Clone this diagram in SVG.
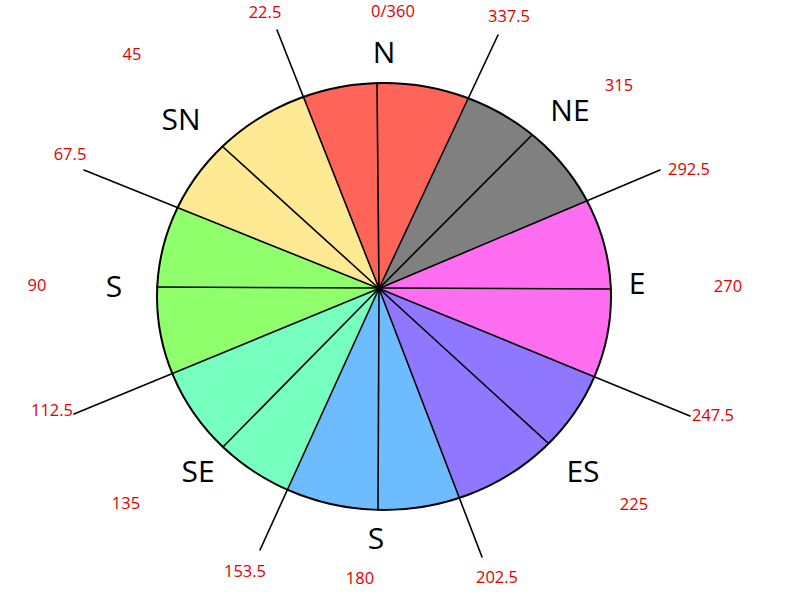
<svg xmlns="http://www.w3.org/2000/svg" width="800" height="600" viewBox="0 0 800 600">
<style>
.sec{stroke:none}
.sp{stroke:#000;stroke-width:1.6;fill:none;stroke-linecap:round}
.rim{fill:none;stroke:#000;stroke-width:2}
.dir{font-family:"Open Sans","Liberation Sans",sans-serif;font-size:30px;fill:#000;text-anchor:middle}
.deg{font-family:"Open Sans","Liberation Sans",sans-serif;font-size:16.5px;fill:#e00000;text-anchor:middle}
</style>
<rect width="800" height="600" fill="#fff"/>
<g id="sectors">
<path id="sec-N" class="sec" fill="#ff6459" d="M379 288.5 L303 97 A227 213.5 0 0 1 469 98.5 Z"/>
<path id="sec-NE" class="sec" fill="#808080" d="M379 288.5 L469 98.5 A227 213.5 0 0 1 587.3 201 Z"/>
<path id="sec-E" class="sec" fill="#ff6ef0" d="M379 288.5 L587.3 201 A227 213.5 0 0 1 594.4 376.7 Z"/>
<path id="sec-ES" class="sec" fill="#8f78ff" d="M379 288.5 L594.4 376.7 A227 213.5 0 0 1 459 498 Z"/>
<path id="sec-S" class="sec" fill="#6cbcff" d="M379 288.5 L459 498 A227 213.5 0 0 1 288 490 Z"/>
<path id="sec-SE" class="sec" fill="#77ffbf" d="M379 288.5 L288 490 A227 213.5 0 0 1 172.4 373.6 Z"/>
<path id="sec-W" class="sec" fill="#8fff6b" d="M379 288.5 L172.4 373.6 A227 213.5 0 0 1 177.6 207.8 Z"/>
<path id="sec-SN" class="sec" fill="#ffe993" d="M379 288.5 L177.6 207.8 A227 213.5 0 0 1 303 97 Z"/>
<ellipse class="rim" cx="384" cy="296.5" rx="227" ry="213.5"/>
</g>
<g id="connectors">
<line class="sp" x1="379" y1="288.5" x2="377" y2="83"/>
<line class="sp" x1="379" y1="288.5" x2="378" y2="510"/>
<line class="sp" x1="157" y1="287" x2="611" y2="289"/>
<line class="sp" x1="379" y1="288.5" x2="532" y2="135"/>
<line class="sp" x1="379" y1="288.5" x2="548.6" y2="443.5"/>
<line class="sp" x1="379" y1="288.5" x2="223" y2="447"/>
<line class="sp" x1="379" y1="288.5" x2="222.5" y2="146.5"/>
<line class="sp" x1="379" y1="288.5" x2="277" y2="30"/>
<line class="sp" x1="379" y1="288.5" x2="498" y2="35"/>
<line class="sp" x1="379" y1="288.5" x2="660" y2="170"/>
<line class="sp" x1="379" y1="288.5" x2="690" y2="416"/>
<line class="sp" x1="379" y1="288.5" x2="482" y2="557"/>
<line class="sp" x1="379" y1="288.5" x2="260" y2="550"/>
<line class="sp" x1="379" y1="288.5" x2="74" y2="414"/>
<line class="sp" x1="379" y1="288.5" x2="84" y2="170"/>
</g>
<g id="direction-labels">
<text class="dir" x="384" y="63">N</text>
<text class="dir" x="570" y="121">NE</text>
<text class="dir" x="637" y="294">E</text>
<text class="dir" x="583" y="482">ES</text>
<text class="dir" x="376" y="549">S</text>
<text class="dir" x="198" y="482">SE</text>
<text class="dir" x="114" y="297">S</text>
<text class="dir" x="181" y="130">SN</text>
</g>
<g id="degree-labels">
<text class="deg" x="393" y="17">0/360</text>
<text class="deg" x="265" y="18">22.5</text>
<text class="deg" x="509" y="22">337.5</text>
<text class="deg" x="619" y="91">315</text>
<text class="deg" x="689" y="175">292.5</text>
<text class="deg" x="728" y="292">270</text>
<text class="deg" x="713" y="421">247.5</text>
<text class="deg" x="634" y="510">225</text>
<text class="deg" x="497" y="583">202.5</text>
<text class="deg" x="360" y="584">180</text>
<text class="deg" x="245" y="577">153.5</text>
<text class="deg" x="126" y="509">135</text>
<text class="deg" x="52" y="416">112.5</text>
<text class="deg" x="37" y="291">90</text>
<text class="deg" x="70" y="160">67.5</text>
<text class="deg" x="132" y="60">45</text>
</g>
</svg>
